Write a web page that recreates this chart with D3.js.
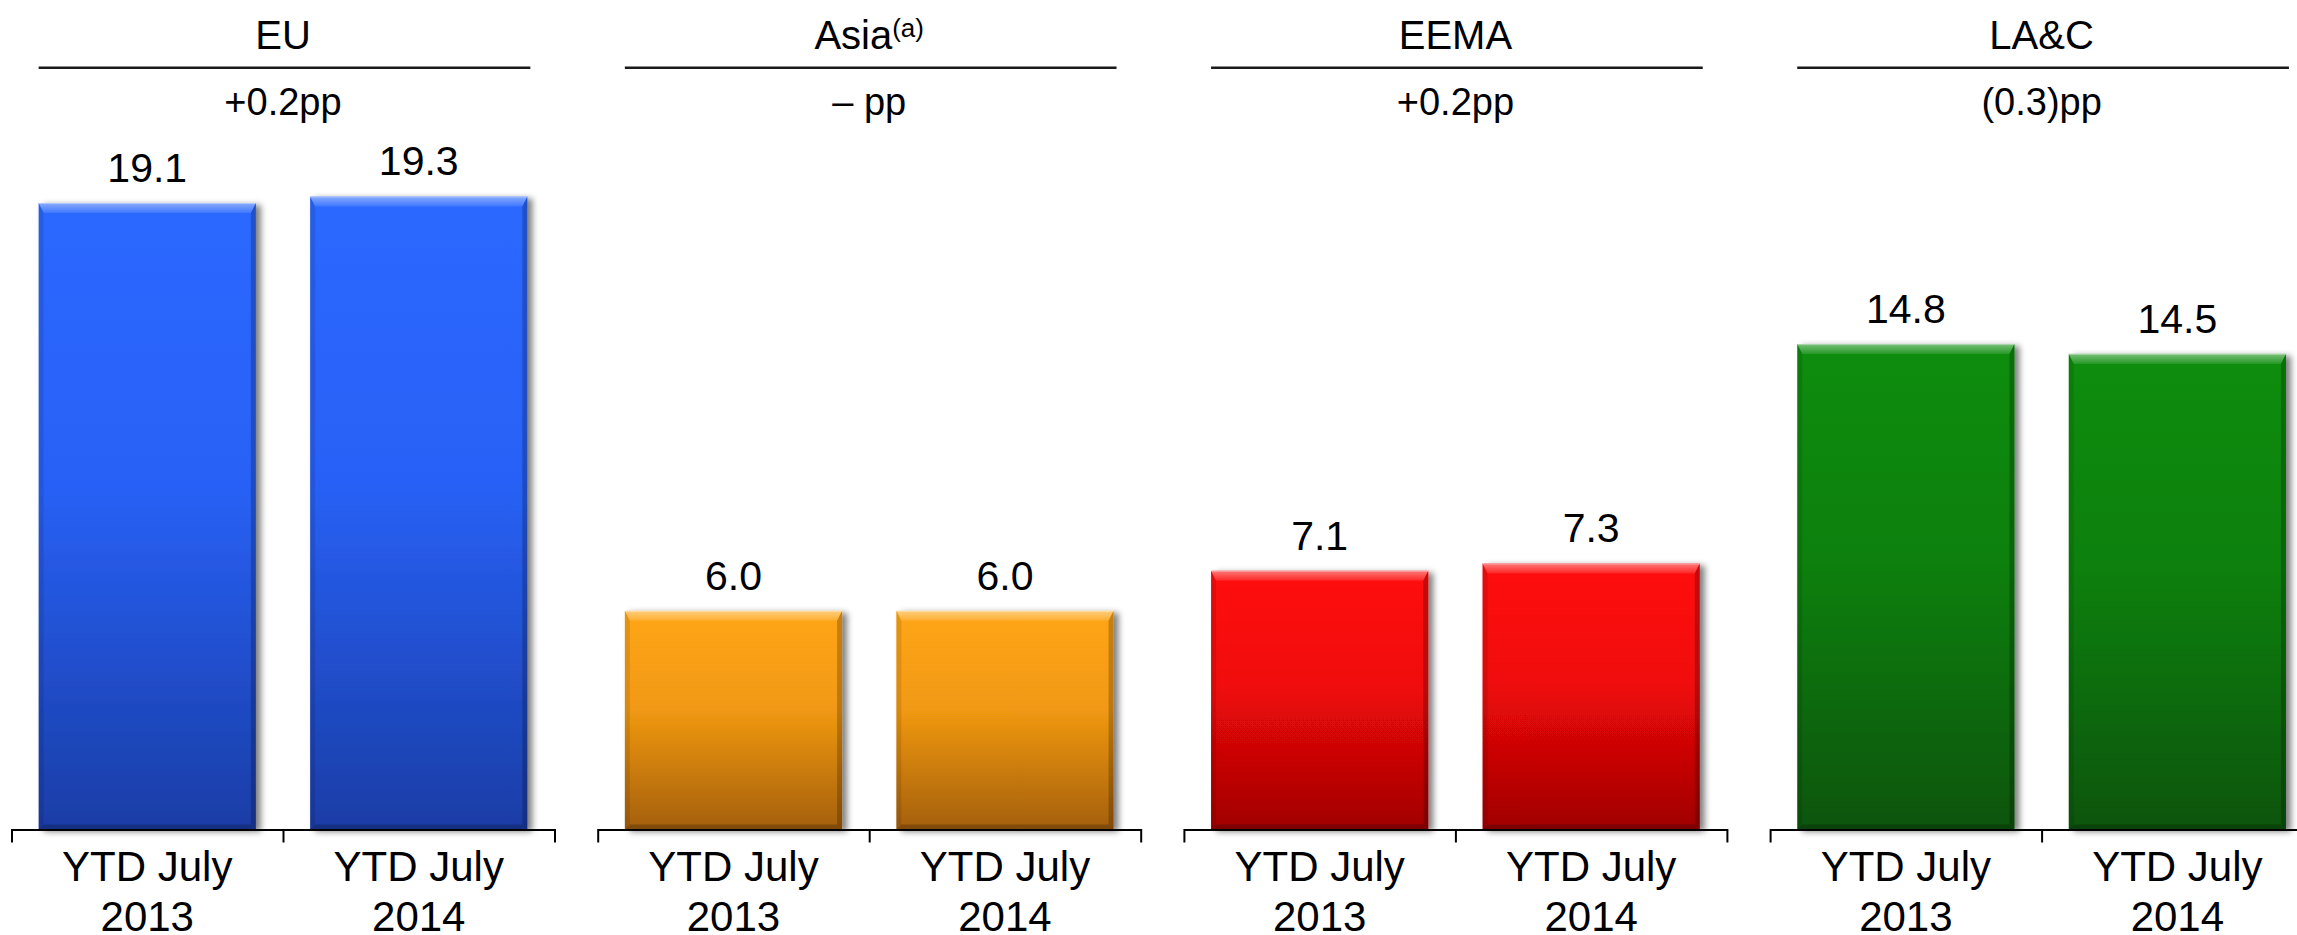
<!DOCTYPE html>
<html>
<head>
<meta charset="utf-8">
<script src="https://cdn.jsdelivr.net/npm/d3@7"></script>
<style>
  html, body { margin: 0; padding: 0; background: #ffffff; }
  svg { display: block; }
  text { font-family: "Liberation Sans", Arial, Helvetica, sans-serif; fill: #000; }
</style>
</head>
<body>
<svg id="chart" width="2297" height="935"></svg>
<script>
// Regional share figures, year-to-date July
const regions = ["EU", "Asia", "EEMA", "LA&C"];
const regionNotes = ["", "(a)", "", ""];
const changeLabels = ["+0.2pp", "\u2013 pp", "+0.2pp", "(0.3)pp"];
const periods = ["YTD July 2013", "YTD July 2014"];
const periodLines = [["YTD July", "2013"], ["YTD July", "2014"]];
const values2013 = [19.1, 6.0, 7.1, 14.8];
const values2014 = [19.3, 6.0, 7.3, 14.5];
const axisMax = [20, 18, 18, 20];

// Bar fills: top, middle, bottom of each region's gradient
const barColors = [
  ["#2c68ff", "#2861f6", "#1a3da6"],
  ["#ffa516", "#f19912", "#a45f0a"],
  ["#ff0b0b", "#f00808", "#a00303"],
  ["#0a8d0a", "#08800a", "#0a550a"]
];

const W = 2297, H = 935;
const baseY = 829.5, plotTop = 173.5;
const panelW = 543, panelStep = 586.2, panelLeft = 11.5;

const svg = d3.select("#chart");
const defs = svg.append("defs");

const shadow = defs.append("filter").attr("id", "barShadow")
  .attr("x", "-10%").attr("y", "-5%").attr("width", "130%").attr("height", "115%");
shadow.append("feGaussianBlur").attr("in", "SourceAlpha").attr("stdDeviation", 3).attr("result", "blur");
shadow.append("feOffset").attr("in", "blur").attr("dx", 5).attr("dy", 2).attr("result", "off");
shadow.append("feComponentTransfer").attr("in", "off").attr("result", "soft")
  .append("feFuncA").attr("type", "linear").attr("slope", 0.5);
const merge = shadow.append("feMerge");
merge.append("feMergeNode").attr("in", "soft");
merge.append("feMergeNode").attr("in", "SourceGraphic");

barColors.forEach((c, i) => {
  const g = defs.append("linearGradient").attr("id", "fill" + i)
    .attr("x1", 0).attr("y1", 0).attr("x2", 0).attr("y2", 1);
  g.append("stop").attr("offset", "0%").attr("stop-color", c[0]);
  g.append("stop").attr("offset", "45%").attr("stop-color", c[1]);
  g.append("stop").attr("offset", "100%").attr("stop-color", c[2]);
});
const topBevel = defs.append("linearGradient").attr("id", "bevelTop")
  .attr("x1", 0).attr("y1", 0).attr("x2", 0).attr("y2", 1);
topBevel.append("stop").attr("offset", "0%").attr("stop-color", "#fff").attr("stop-opacity", 0.45);
topBevel.append("stop").attr("offset", "100%").attr("stop-color", "#fff").attr("stop-opacity", 0.1);

// One panel per region
const panelScale = d3.scaleBand()
  .domain(regions)
  .range([panelLeft, panelLeft + 3 * panelStep + panelW])
  .paddingInner((panelStep - panelW) / panelStep)
  .paddingOuter(0);

const xInner = d3.scaleBand()
  .domain(periods)
  .range([0, panelW])
  .paddingInner(0.2)
  .paddingOuter(0.1);

regions.forEach((region, i) => {
  const x0 = panelScale(region);
  const g = svg.append("g").attr("transform", `translate(${x0},0)`);
  const y = d3.scaleLinear().domain([0, axisMax[i]]).range([baseY, plotTop]);
  const vals = [values2013[i], values2014[i]];
  const cx = panelW / 2;

  // Region heading with rule and change note
  const title = g.append("text").attr("x", cx).attr("y", 49)
    .attr("text-anchor", "middle").style("font-size", "40px");
  title.append("tspan").text(region);
  if (regionNotes[i]) {
    title.append("tspan").attr("dy", -12).style("font-size", "26px").text(regionNotes[i]);
  }
  const lineX0 = xInner(periods[0]);
  const lineX1 = xInner(periods[1]) + xInner.bandwidth() + 3;
  g.append("line").attr("x1", lineX0).attr("x2", lineX1)
    .attr("y1", 67.7).attr("y2", 67.7)
    .attr("stroke", "#1a1a1a").attr("stroke-width", 2.6);
  g.append("text").attr("x", cx).attr("y", 115)
    .attr("text-anchor", "middle").style("font-size", "38px")
    .text(changeLabels[i]);

  // Bars with bevelled edges
  periods.forEach((p, j) => {
    const bx = xInner(p), bw = xInner.bandwidth();
    const by = y(vals[j]), bh = baseY - by;
    const bar = g.append("g");
    bar.append("rect").attr("x", bx).attr("y", by)
      .attr("width", bw).attr("height", bh)
      .attr("fill", `url(#fill${i})`).attr("filter", "url(#barShadow)");
    const b = 10, s = 5;
    const poly = (pts, fill, op) => bar.append("polygon")
      .attr("points", pts.map(d => d.join(",")).join(" "))
      .attr("fill", fill).attr("fill-opacity", op);
    poly([[bx, by], [bx + bw, by], [bx + bw - s, by + b], [bx + s, by + b]], "url(#bevelTop)", 1);
    poly([[bx, by], [bx + s, by + b], [bx + s, baseY - s], [bx, baseY]], "#000", 0.1);
    poly([[bx + bw, by], [bx + bw, baseY], [bx + bw - s, baseY - s], [bx + bw - s, by + b]], "#000", 0.22);
    poly([[bx, baseY], [bx + s, baseY - s], [bx + bw - s, baseY - s], [bx + bw, baseY]], "#000", 0.22);
    bar.append("line").attr("x1", bx).attr("x2", bx + bw).attr("y1", by + 0.5).attr("y2", by + 0.5)
      .attr("stroke", "#fff").attr("stroke-opacity", 0.35).attr("stroke-width", 1);

    g.append("text").attr("x", bx + bw / 2).attr("y", by - 21)
      .attr("text-anchor", "middle").style("font-size", "41px")
      .text(d3.format(".1f")(vals[j]));
  });

  // Category axis: outer ticks from the axis, divider between periods
  const axis = d3.axisBottom(xInner).tickSizeInner(0).tickSizeOuter(13).tickFormat("");
  const ax = g.append("g").attr("transform", `translate(0,${baseY})`).call(axis);
  ax.select(".domain").attr("stroke", "#000").attr("stroke-width", 2);
  const divX = xInner.step() + 0.5;
  ax.append("line")
    .attr("x1", divX).attr("x2", divX)
    .attr("y1", 0).attr("y2", 13).attr("stroke", "#000").attr("stroke-width", 2);
  ax.selectAll(".tick").each(function (d, j) {
    const t = d3.select(this).select("text")
      .attr("y", 0).attr("dy", null)
      .style("font-size", "42px").attr("fill", "#000")
      .style("font-family", "\"Liberation Sans\", Arial, sans-serif");
    t.text(null);
    periodLines[j].forEach((ln, k) => {
      t.append("tspan").attr("x", 0).attr("y", 51 + k * 50).text(ln);
    });
  });
});
</script>
</body>
</html>
